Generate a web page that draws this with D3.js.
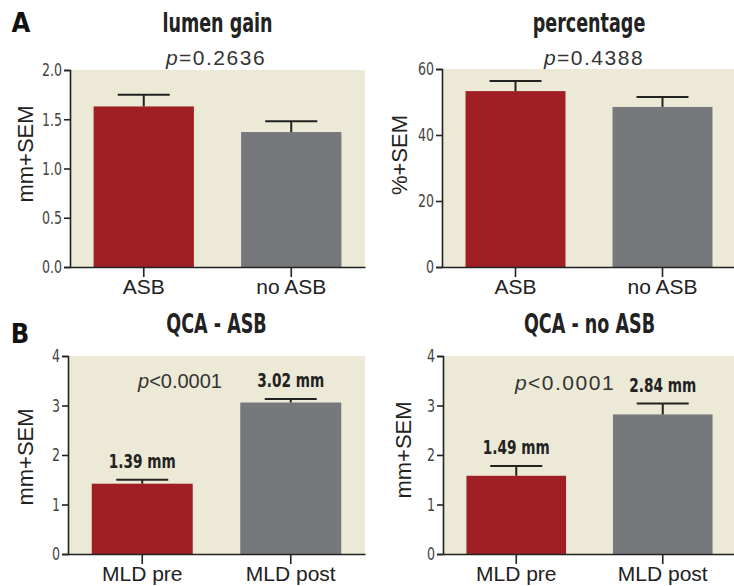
<!DOCTYPE html>
<html>
<head>
<meta charset="utf-8">
<script src="https://cdn.jsdelivr.net/npm/d3@7"></script>
<style>
  body { margin: 0; background: #fff; }
  .cond { font-family: "DejaVu Sans", sans-serif; }
  .sans { font-family: "Liberation Sans", Arial, sans-serif; }
</style>
</head>
<body>
<svg id="chart" width="734" height="586"></svg>
<script>
// data
var groupsA = ['ASB', 'no ASB']
var groupsB = ['MLD pre', 'MLD post']

var lumenGain = [1.63, 1.37]
var lumenGainSem = [0.12, 0.11]

var percentage = [53.3, 48.5]
var percentageSem = [3.1, 3.0]

var qcaAsb = [1.42, 3.06]
var qcaAsbSem = [0.08, 0.07]

var qcaNoAsb = [1.58, 2.82]
var qcaNoAsbSem = [0.20, 0.22]

var qcaAsbLabels = ['1.39 mm', '3.02 mm']
var qcaNoAsbLabels = ['1.49 mm', '2.84 mm']

var ticksLumen = [0, 0.5, 1.0, 1.5, 2.0]
var ticksPct = [0, 20, 40, 60]
var ticksQca = [0, 1, 2, 3, 4]

var colors = ['#a01f25', '#76787b']
var bg = '#ece9d6'
var ink = '#222'

var svg = d3.select('#chart')

var panels = [
  {title: 'lumen gain', p: 'p=0.2636', groups: groupsA, values: lumenGain, sem: lumenGainSem,
   ticks: ticksLumen, fmt: d3.format('.1f'), ylabel: 'mm+SEM',
   x0: 70, x1: 365, y0: 70, y1: 267, titleY: 32, pY: 65, pX: 216, pSize: 21, pSpace: 1.5,
   ylabelX: 33, ylabelY: 154},
  {title: 'percentage', p: 'p=0.4388', groups: groupsA, values: percentage, sem: percentageSem,
   ticks: ticksPct, fmt: d3.format('d'), ylabel: '%+SEM',
   x0: 442, x1: 736, y0: 69, y1: 267, titleY: 32, pY: 65, pX: 594, pSize: 21, pSpace: 1.5,
   ylabelX: 407, ylabelY: 155},
  {title: 'QCA - ASB', p: 'p<0.0001', groups: groupsB, values: qcaAsb, sem: qcaAsbSem,
   labels: qcaAsbLabels, ticks: ticksQca, fmt: d3.format('d'), ylabel: 'mm+SEM',
   x0: 68, x1: 365, y0: 356, y1: 554, titleY: 333, pY: 388, pX: 180, pSize: 20, pSpace: 0,
   ylabelX: 33, ylabelY: 457},
  {title: 'QCA - no ASB', p: 'p<0.0001', groups: groupsB, values: qcaNoAsb, sem: qcaNoAsbSem,
   labels: qcaNoAsbLabels, ticks: ticksQca, fmt: d3.format('d'), ylabel: 'mm+SEM',
   x0: 443, x1: 736, y0: 356, y1: 554, titleY: 333, pY: 390, pX: 565, pSize: 21, pSpace: 1.5,
   ylabelX: 411, ylabelY: 450},
]

// condensed text: DejaVu squeezed horizontally
function condText(parent, x, y, size, sx, bold, txt){
  return parent.append('text')
    .attr('class', 'cond')
    .attr('transform', `translate(${x},${y}) scale(${sx},1)`)
    .attr('text-anchor', 'middle')
    .style('font-size', size + 'px')
    .attr('font-weight', bold ? 'bold' : 'normal')
    .attr('fill', '#222')
    .text(txt)
}

panels.forEach(drawPanel)

function drawPanel(d){
  var g = svg.append('g')

  var x = d3.scaleBand().domain(d.groups).range([d.x0, d.x1])
    .paddingInner(0.32).paddingOuter(0.16)
  var y = d3.scaleLinear().domain(d3.extent(d.ticks)).range([d.y1, d.y0])

  g.append('rect')
    .attr('x', d.x0).attr('y', d.y0)
    .attr('width', d.x1 - d.x0).attr('height', d.y1 - d.y0)
    .attr('fill', bg)

  g.selectAll('rect.bar').data(d.values).join('rect')
    .attr('class', 'bar')
    .attr('x', (v, i) => x(d.groups[i]))
    .attr('width', x.bandwidth())
    .attr('y', v => y(v))
    .attr('height', v => y(0) - y(v))
    .attr('fill', (v, i) => colors[i])

  // error bars
  var cx = i => x(d.groups[i]) + x.bandwidth()/2
  d.values.forEach((v, i) => {
    var top = y(v + d.sem[i])
    g.append('line')
      .attr('x1', cx(i)).attr('x2', cx(i))
      .attr('y1', y(v)).attr('y2', top)
      .attr('stroke', ink).attr('stroke-width', 2)
    g.append('line')
      .attr('x1', cx(i) - 26).attr('x2', cx(i) + 26)
      .attr('y1', top).attr('y2', top)
      .attr('stroke', ink).attr('stroke-width', 2)
  })

  // y axis
  var yAxis = g.append('g')
    .attr('transform', `translate(${d.x0},0)`)
    .call(d3.axisLeft(y).tickValues(d.ticks).tickFormat(d.fmt).tickSize(6).tickPadding(0))
  yAxis.select('.domain').attr('stroke', ink).attr('stroke-width', 1.6)
  yAxis.selectAll('.tick line').attr('stroke', ink).attr('stroke-width', 1.6)
  yAxis.selectAll('text')
    .attr('class', 'cond').style('font-size', '18px').attr('fill', '#444')
    .attr('x', null)
    .attr('transform', 'translate(-8,0) scale(0.7,1)')

  // x axis
  var xAxis = g.append('g')
    .attr('transform', `translate(0,${d.y1})`)
    .call(d3.axisBottom(x).tickSize(10).tickPadding(2).tickSizeOuter(0))
  xAxis.select('.domain').attr('stroke', ink).attr('stroke-width', 1.6)
  xAxis.selectAll('.tick line').attr('stroke', ink).attr('stroke-width', 1.6)
  xAxis.selectAll('text').attr('class', 'sans').style('font-size', '21px').attr('fill', '#222')

  // y label
  g.append('text')
    .attr('class', 'sans')
    .attr('transform', `translate(${d.ylabelX},${d.ylabelY}) rotate(-90)`)
    .attr('text-anchor', 'middle')
    .style('font-size', '22px').attr('fill', '#222')
    .text(d.ylabel)

  // title
  var mid = (x(d.groups[0]) + x(d.groups[1]) + x.bandwidth())/2
  condText(g, mid, d.titleY, 27, 0.65, true, d.title)

  // p value
  var pt = g.append('text')
    .attr('class', 'sans')
    .attr('x', d.pX).attr('y', d.pY)
    .attr('text-anchor', 'middle')
    .style('font-size', d.pSize + 'px').attr('letter-spacing', d.pSpace).attr('fill', '#333')
  pt.append('tspan').attr('font-style', 'italic').text(d.p[0])
  pt.append('tspan').text(d.p.slice(1))

  // value labels
  if (d.labels) {
    d.labels.forEach((t, i) => {
      condText(g, cx(i), y(d.values[i] + d.sem[i]) - 12, 19, 0.72, true, t)
    })
  }
}

// panel letters
condText(svg, 21, 32, 27, 0.9, true, 'A').attr('fill', '#111')
condText(svg, 20, 343, 27, 0.9, true, 'B').attr('fill', '#111')
</script>
</body>
</html>
